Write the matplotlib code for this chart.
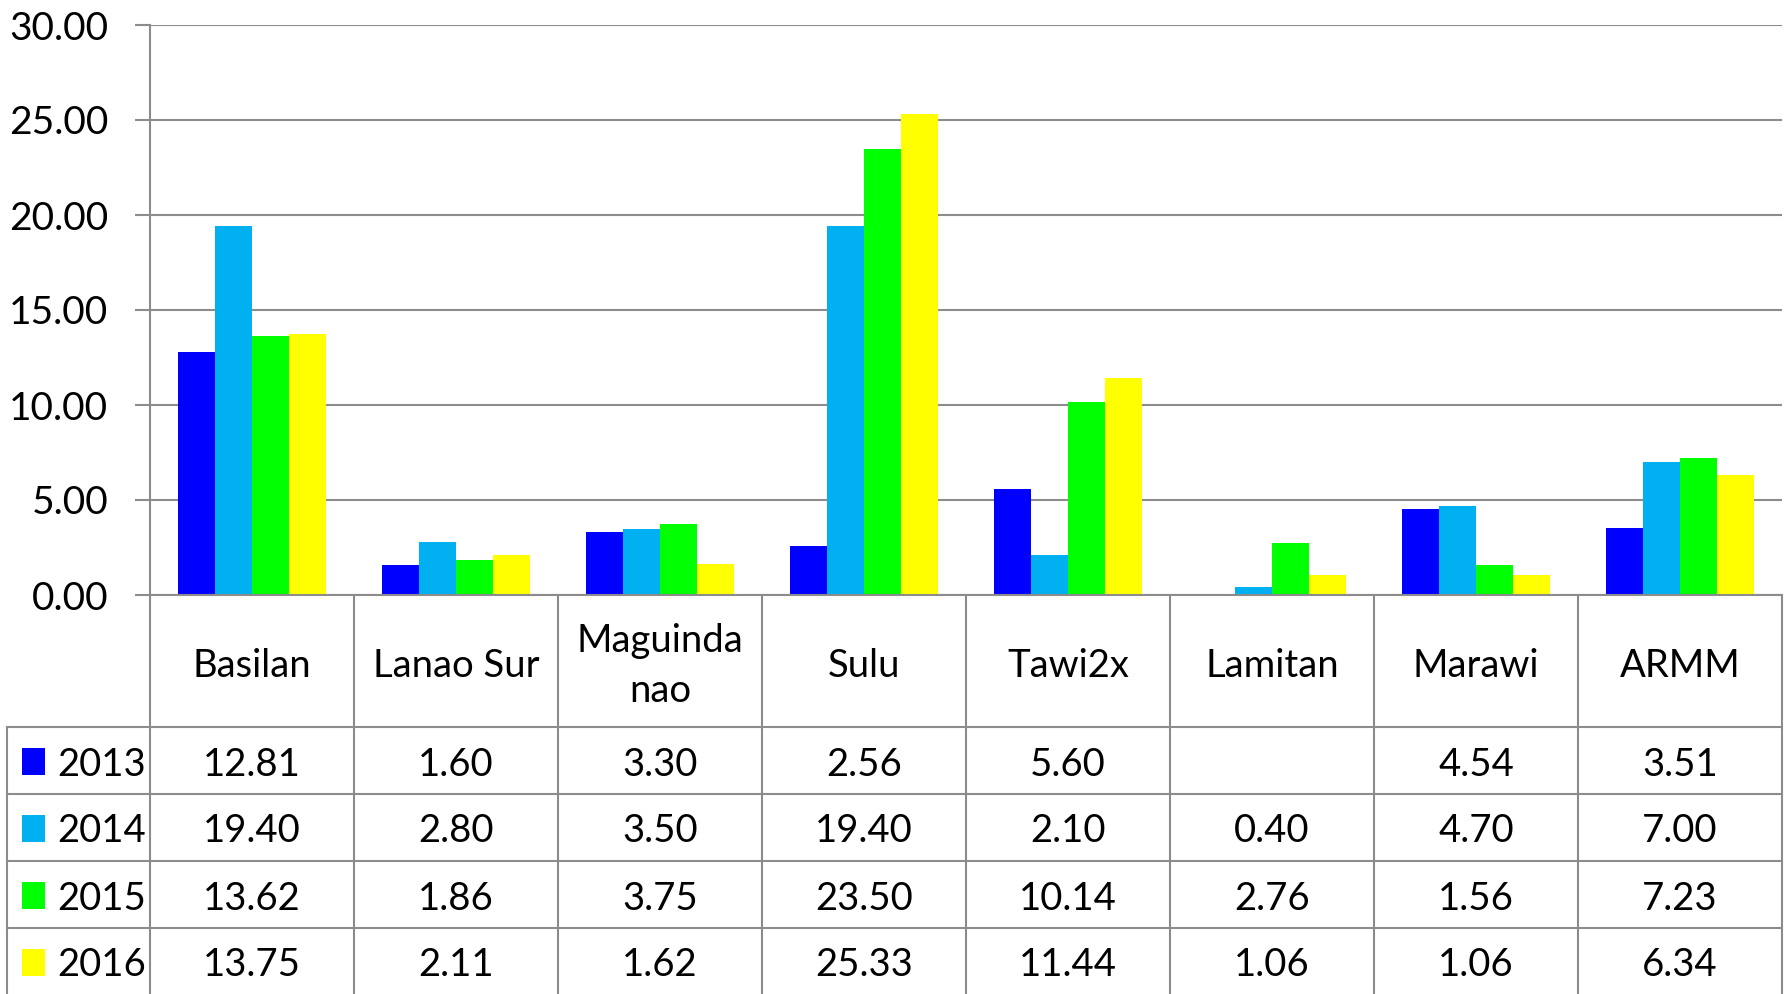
import numpy as np
import matplotlib.pyplot as plt
from matplotlib.patches import Rectangle
from matplotlib.transforms import Affine2D, blended_transform_factory

plt.rcParams['font.family'] = ['Lato', 'DejaVu Sans']

# datos
regions = ['Basilan', 'Lanao Sur', 'Maguinda\nnao', 'Sulu', 'Tawi2x', 'Lamitan', 'Marawi', 'ARMM']
years = ['2013', '2014', '2015', '2016']
v2013 = [12.81, 1.60, 3.30, 2.56, 5.60, np.nan, 4.54, 3.51]
v2014 = [19.40, 2.80, 3.50, 19.40, 2.10, 0.40, 4.70, 7.00]
v2015 = [13.62, 1.86, 3.75, 23.50, 10.14, 2.76, 1.56, 7.23]
v2016 = [13.75, 2.11, 1.62, 25.33, 11.44, 1.06, 1.06, 6.34]
series = [v2013, v2014, v2015, v2016]
colors = ['#0000FF', '#00B0F0', '#00FF00', '#FFFF00']

W, H = 1791, 994
grey = '#8c8c8c'
fs = 27.5

fig = plt.figure(figsize=(W / 100, H / 100), dpi=100)
ax = fig.add_axes([150 / W, (H - 595) / H, 1632 / W, 570 / H])

x = np.arange(len(regions))
bw = 0.181
for j, vals in enumerate(series):
    ax.bar(x + (j - 1.5) * bw, vals, width=bw, color=colors[j], edgecolor='none', zorder=2)

ax.set_xlim(-0.5, len(regions) - 0.5)
ax.set_ylim(0, 30)
ax.set_yticks(np.arange(0, 31, 5))
ax.set_yticklabels([f'{t:.2f}' for t in np.arange(0, 31, 5)])
ax.set_xticks([])
ax.grid(axis='y', color=grey, lw=1.5)
ax.set_axisbelow(True)
ax.tick_params(axis='y', length=11, width=1.5, color=grey, pad=19, labelsize=28)
for s in ['top', 'right']:
    ax.spines[s].set_visible(False)
for s in ['left', 'bottom']:
    ax.spines[s].set_color(grey)
    ax.spines[s].set_linewidth(1.5)

# tabla de datos debajo (coordenadas en pixeles, y hacia abajo)
px = Affine2D().scale(1 / W, -1 / H).translate(0, 1) + fig.transFigure
bt = blended_transform_factory(ax.transData, px)

rows = [727, 794, 861, 928, 995]
for k in range(len(regions) + 1):
    ax.plot([k - 0.5, k - 0.5], [595, 1000], color=grey, lw=1.5, transform=bt, clip_on=False)
ax.plot([7, 7], [727, 1000], color=grey, lw=1.5, transform=px, clip_on=False)
for r in rows[:-1]:
    ax.plot([7, 1782], [r, r], color=grey, lw=1.5, transform=px, clip_on=False)

for i, name in enumerate(regions):
    ax.text(i, 666, name, ha='center', va='center', fontsize=fs, linespacing=1.45,
            transform=bt, clip_on=False)

dy = 4  # bajar un poco el texto para centrar los digitos
for j, vals in enumerate(series):
    yc = (rows[j] + rows[j + 1]) / 2
    ax.add_patch(Rectangle((22, yc - 13), 23, 27, facecolor=colors[j], edgecolor='none',
                           transform=px, clip_on=False))
    ax.text(57, yc + dy, years[j], ha='left', va='center', fontsize=fs, transform=px, clip_on=False)
    for i, v in enumerate(vals):
        if not np.isnan(v):
            ax.text(i, yc + dy, f'{v:.2f}', ha='center', va='center', fontsize=fs,
                    transform=bt, clip_on=False)

fig.savefig('out.png', dpi=100, facecolor='white')
